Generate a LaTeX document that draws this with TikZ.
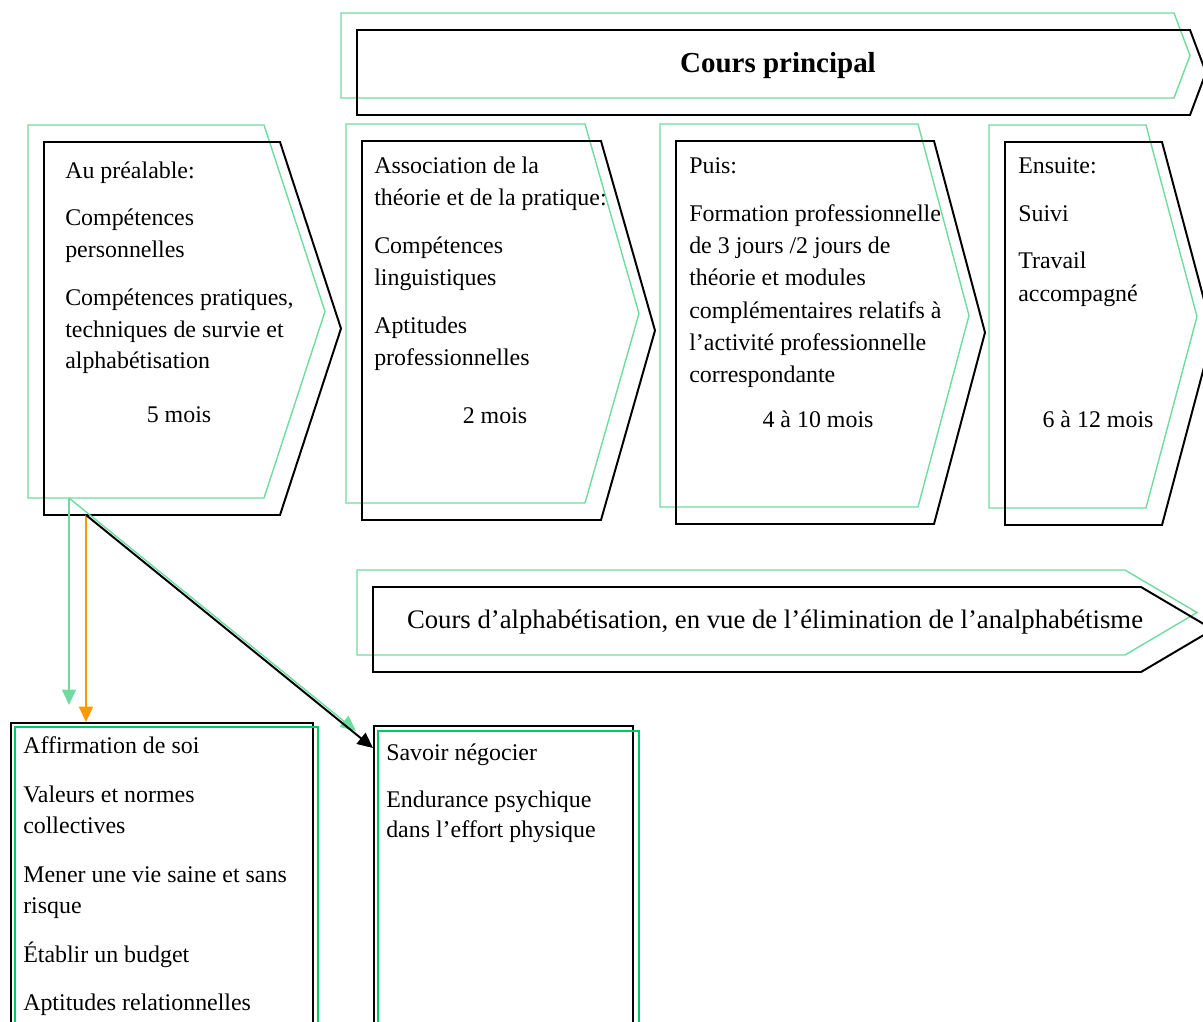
\documentclass[tikz,border=0pt]{standalone}
\usepackage{fontspec}
\setmainfont{Liberation Serif}
\usetikzlibrary{arrows.meta,calc}

\definecolor{shadowgreen}{RGB}{110,220,160}
\definecolor{boxgreen}{RGB}{0,200,100}
\definecolor{arroworange}{RGB}{255,153,0}

\tikzset{
  shadowline/.style={shadowgreen, line width=1pt},
  outline/.style={black, line width=1.4pt},
  txt/.style={inner sep=0pt, anchor=base west, font=\fontsize{17}{20}\selectfont},
  dur/.style={inner sep=0pt, anchor=base, font=\fontsize{17}{20}\selectfont},
  listbox/.style={draw, line width=1.3pt, inner sep=0pt, anchor=north west},
  tip/.style={-{Triangle[length=11pt,width=10pt]}}
}

% left, top, right, tip, bottom
\newcommand{\chevron}[5]{%
  \draw[shadowline] (#1-16,#2-17) -- (#3-16,#2-17) -- (#4-16,{(#2+#5)/2-17})
    -- (#3-16,#5-17) -- (#1-16,#5-17) -- cycle;
  \draw[outline] (#1,#2) -- (#3,#2) -- (#4,{(#2+#5)/2}) -- (#3,#5) -- (#1,#5) -- cycle;
}

\begin{document}
\begin{tikzpicture}[x=0.025cm,y=-0.025cm]

\clip (0,0) rectangle (1203,1021);

\chevron{357}{30}{1190}{1206}{115}
\chevron{44}{142}{280}{341}{515}
\chevron{362}{141}{601}{655}{520}
\chevron{676}{141}{934}{985}{524}
\chevron{1005}{142}{1162}{1213}{525}
\chevron{373}{587}{1141}{1213}{672}

\node[inner sep=0pt, anchor=base, font=\bfseries\fontsize{20.6}{24}\selectfont]
  (main) at (778,72) {Cours principal};
\node[inner sep=0pt, anchor=base, font=\fontsize{19}{22}\selectfont]
  (lit) at (775,628) {Cours d’alphabétisation, en vue de l’élimination de l’analphabétisme};

\foreach \yy/\words [count=\i] in {178/Au préalable:, 225/Compétences,
    257/personnelles, 305/{Compétences pratiques,}, 337/techniques de survie et,
    368/alphabétisation}
  \node[txt] (pre\i) at (65,\yy) {\words};
\node[dur] (predur) at (179,422) {5 mois};

\foreach \yy/\words [count=\i] in {173/Association de la,
    205/théorie et de la pratique:, 253/Compétences, 285/linguistiques,
    333/Aptitudes, 365/professionnelles}
  \node[txt] (asso\i) at (374,\yy) {\words};
\node[dur] (assodur) at (495,423) {2 mois};

\foreach \yy/\words [count=\i] in {173/Puis:, 221/Formation professionnelle,
    253/{de 3 jours /2 jours de}, 285/théorie et modules,
    318/complémentaires relatifs à, 350/l’activité professionnelle,
    382/correspondante}
  \node[txt] (puis\i) at (689,\yy) {\words};
\node[dur] (puisdur) at (818,427) {4 à 10 mois};

\foreach \yy/\words [count=\i] in {173/Ensuite:, 221/Suivi, 268/Travail,
    301/accompagné}
  \node[txt] (ens\i) at (1018,\yy) {\words};
\node[dur] (ensdur) at (1098,427) {6 à 12 mois};

\node[listbox, minimum width=7.55cm, minimum height=7.9cm] (skills) at (10,722) {};
\node[listbox, minimum width=6.475cm, minimum height=7.9cm] (nego) at (373,725) {};
\draw[boxgreen, line width=1.3pt] ($(skills.north west)+(5,5)$) rectangle ($(skills.south east)+(4,5)$);
\draw[boxgreen, line width=1.3pt] ($(nego.north west)+(5,6)$) rectangle ($(nego.south east)+(5,6)$);

\foreach \yy/\words [count=\i] in {753/Affirmation de soi, 802/Valeurs et normes,
    833/collectives, 882/Mener une vie saine et sans, 913/risque,
    962/Établir un budget, 1010/Aptitudes relationnelles}
  \node[txt] (skill\i) at (23,\yy) {\words};

\foreach \yy/\words [count=\i] in {760/Savoir négocier, 807/Endurance psychique,
    837/dans l’effort physique}
  \node[txt] (neg\i) at (386,\yy) {\words};

\coordinate (pre) at (86,515);
\coordinate (preshadow) at (69,498);
\draw[shadowline, tip] (preshadow) -- ($(pre |- skills.north)+(-17,-17)$);
\draw[shadowline, tip] (preshadow) -- ($(nego.north west)+(-17,6)$);
\draw[arroworange, line width=1.4pt, tip] (pre) -- (pre |- skills.north);
\draw[line width=1.4pt, tip] (pre) -- ($(nego.north west)+(0,23)$);

\end{tikzpicture}
\end{document}
